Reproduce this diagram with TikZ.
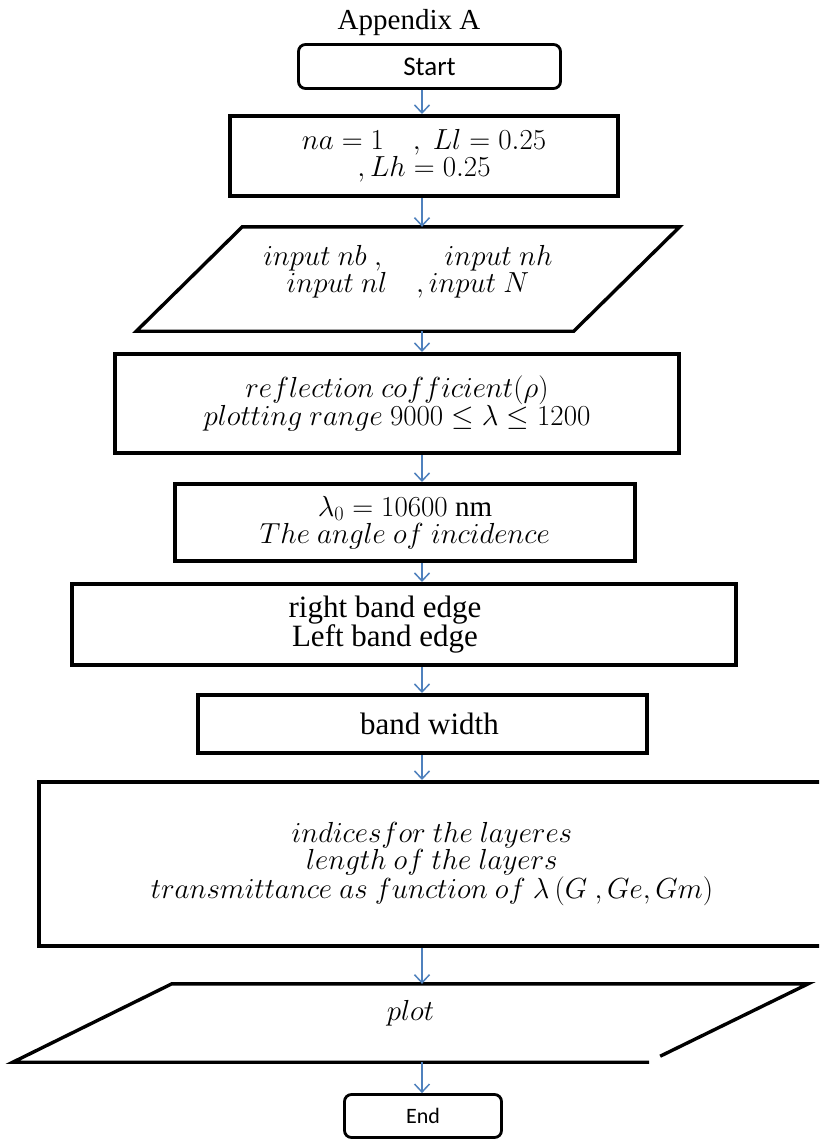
\documentclass[tikz,border=0pt]{standalone}
\usepackage{fix-cm}
\usepackage{fontspec}
\setmainfont{Liberation Serif}
\newfontfamily\calibrifont{Carlito}
\usetikzlibrary{arrows.meta}
\usetikzlibrary{calc}
\definecolor{arrowblue}{HTML}{4F81BD}

\begin{document}
\begin{tikzpicture}[x=1pt, y=-1pt,
	every node/.style={align=center, inner sep=0pt, font=\fontsize{29}{27}\selectfont},
	box/.style={draw, line width=4pt},
	term/.style={draw, line width=2.8pt, rounded corners=7pt, font=\calibrifont\fontsize{27}{30}\selectfont},
	plain/.style={font=\fontsize{31}{26}\selectfont},
	flow/.style={draw=arrowblue, line width=1.5pt, -{Straight Barb[length=8pt, width=15pt]}}]
	\useasboundingbox (0,0) rectangle (819,1140);
	\clip (0,0) rectangle (819,1140);
	% Nodes
	\node (0) at (409,23) {Appendix A};
	\node[term, minimum width=262pt, minimum height=44pt] (1) at (429.5,66.5) {Start};
	\node[box, minimum width=388pt, minimum height=80pt] (2) at (424,156) {$na=1\quad,\ Ll=0.25$\\$,Lh=0.25$};
	\node[minimum width=437pt, minimum height=104pt] (3) at (408,279) {$input\ nb\ ,\qquad input\ nh$\\$input\ nl\quad,input\ N$\rule[-20pt]{0pt}{20pt}};
	\node[box, minimum width=564pt, minimum height=99pt] (4) at (397,403.5) {$reflection\ cofficient(\rho)$\\$plotting\ range\ 9000\leq\lambda\leq1200$};
	\node[box, minimum width=460pt, minimum height=77pt] (5) at (405,522.5) {$\lambda_0=10600\ \mathrm{nm}$\\$The\ angle\ of\ incidence$};
	\node[box, plain, minimum width=664pt, minimum height=81pt] (6) at (404,624.5) {right band edge\rule{38pt}{0pt}\\Left band edge\rule{38pt}{0pt}};
	\node[box, plain, minimum width=449pt, minimum height=58pt] (7) at (422.5,724) {\rule{14pt}{0pt}band width};
	\node[box, minimum width=786pt, minimum height=164pt] (8) at (432,864) {$indicesfor\ the\ layeres$\\$length\ of\ the\ layers$\\$transmittance\ as\ function\ of\ \lambda\,(G\ ,Ge, Gm)$};
	\node[minimum width=636pt, minimum height=78pt] (9) at (410.5,1023) {$plot$\rule[-26pt]{0pt}{26pt}};
	\node[term, font=\calibrifont\fontsize{22}{24}\selectfont, minimum width=157pt, minimum height=43pt] (10) at (423,1116) {End};
	% Input / output shapes
	\draw[line width=3.4pt] ($(3.north west)+(53,0)$) -- ($(3.north east)+(53,0)$) -- ($(3.south east)+(-53,0)$) -- ($(3.south west)+(-53,0)$) -- cycle;
	\draw[line width=3.4pt] ($(9.south east)+(-79.5,0)+(11,-6)$) -- ($(9.north east)+(79.5,0)$) -- ($(9.north west)+(79.5,0)$) -- ($(9.south west)+(-79.5,0)$) -- ($(9.south east)+(-79.5,0)$);
	% Edges
	\coordinate (axis) at (422,0);
	\draw[flow] (axis |- 1.south) -- (axis |- 2.north);
	\draw[flow] (axis |- 2.south) -- (axis |- 3.north);
	\draw[flow] (axis |- 3.south) -- (axis |- 4.north);
	\draw[flow] (axis |- 4.south) -- (axis |- 5.north);
	\draw[flow] (axis |- 5.south) -- (axis |- 6.north);
	\draw[flow] (axis |- 6.south) -- (axis |- 7.north);
	\draw[flow] (axis |- 7.south) -- (axis |- 8.north);
	\draw[flow] (axis |- 8.south) -- (axis |- 9.north);
	\draw[flow] (axis |- 9.south) -- (axis |- 10.north);
\end{tikzpicture}
\end{document}
